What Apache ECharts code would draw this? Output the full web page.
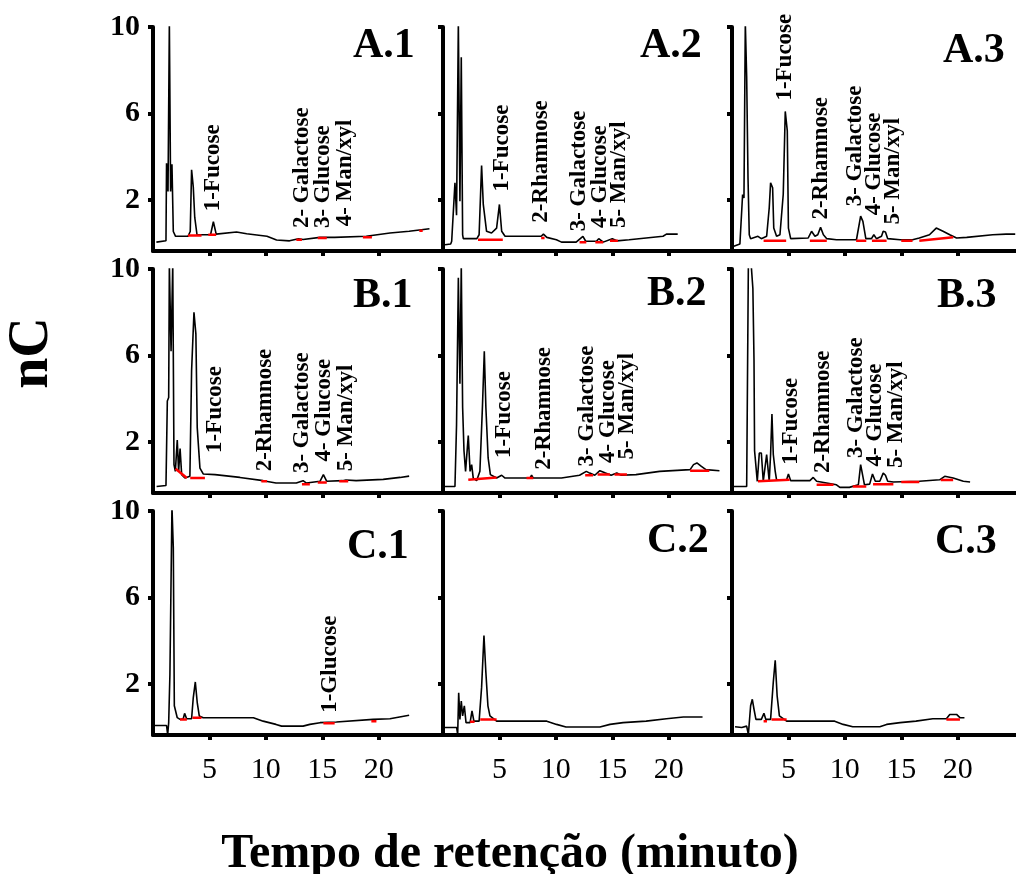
<!DOCTYPE html>
<html>
<head>
<meta charset="utf-8">
<script src="https://cdn.jsdelivr.net/npm/echarts@6/dist/echarts.min.js"></script>
<style>
  html, body { margin: 0; padding: 0; background: #fff; }
  #chart { width: 1016px; height: 874px; }
</style>
</head>
<body>
<div id="chart"></div>
<script>
// ---- Chromatogram traces: [retention time (min), signal (nC)] ----
const traceA1 = [[0.3,0.06],[1.15,0.12],[1.2,3.7],[1.33,2.4],[1.45,10.2],[1.56,2.4],[1.68,3.66],[1.8,0.55],[2.0,0.33],[3.1,0.33],[3.3,0.55],[3.42,3.4],[3.57,2.6],[3.7,1.2],[3.9,0.4],[5.1,0.4],[5.35,1.0],[5.6,0.43],[7.4,0.53],[8.3,0.45],[10.1,0.33],[10.95,0.16],[12.1,0.12],[12.9,0.22],[13.3,0.18],[14.8,0.28],[16.1,0.28],[18.9,0.33],[21.0,0.48],[22.7,0.56],[24.5,0.68]];
const traceA2 = [[0.18,-0.06],[0.68,-0.03],[0.77,0.1],[1.06,2.8],[1.2,1.3],[1.36,10.2],[1.5,1.95],[1.62,8.6],[1.74,0.4],[1.8,0.22],[3.0,0.22],[3.2,0.4],[3.42,3.6],[3.57,1.8],[3.86,0.56],[4.3,0.48],[4.75,0.71],[5.0,1.8],[5.2,0.56],[5.5,0.33],[8.7,0.33],[8.9,0.43],[9.2,0.28],[10.05,0.17],[10.5,0.06],[11.8,0.06],[12.4,0.33],[12.65,0.1],[13.6,0.1],[13.8,0.22],[14.2,0.06],[15.0,0.22],[15.4,0.12],[16.5,0.17],[18.0,0.25],[19.5,0.33],[19.8,0.43],[20.8,0.43]];
const traceA3 = [[0.1,-0.14],[0.7,-0.03],[0.94,2.26],[1.06,2.1],[1.18,10.2],[1.3,7.7],[1.42,3.0],[1.53,0.4],[1.65,0.22],[2.3,0.33],[2.6,0.22],[3.07,0.33],[3.3,1.65],[3.42,2.8],[3.6,2.57],[3.7,0.71],[3.95,0.33],[4.25,0.4],[4.54,2.26],[4.72,6.1],[4.9,5.2],[5.0,0.71],[5.2,0.22],[6.75,0.25],[7.05,0.56],[7.35,0.33],[7.6,0.4],[7.85,0.74],[8.1,0.4],[8.4,0.22],[9.26,0.17],[11.03,0.17],[11.4,1.26],[11.6,1.02],[11.86,0.22],[12.36,0.22],[12.57,0.4],[12.8,0.22],[13.25,0.33],[13.4,0.56],[13.6,0.53],[13.8,0.22],[14.9,0.17],[16.0,0.17],[16.6,0.25],[17.5,0.4],[18.1,0.71],[18.7,0.56],[19.3,0.4],[19.9,0.25],[20.8,0.28],[23.1,0.4],[24.3,0.43],[25.1,0.43]];
const traceB1 = [[0.32,-0.05],[1.15,0],[1.27,3.9],[1.39,4.06],[1.45,10.2],[1.6,6.2],[1.75,10.2],[1.86,0.96],[1.98,0.65],[2.15,2.1],[2.27,0.65],[2.4,1.7],[2.54,0.5],[2.83,0.34],[3.27,0.42],[3.42,5.3],[3.63,8.0],[3.8,7.0],[3.92,2.67],[4.16,0.8],[4.45,0.53],[5.5,0.5],[5.6,0.45],[7.7,0.37],[9.76,0.22],[10.9,0.11],[12.7,0.11],[13.3,0.22],[13.6,0.11],[14.8,0.19],[15.1,0.5],[15.4,0.19],[16.8,0.22],[17.1,0.25],[18.0,0.22],[20.4,0.28],[21.9,0.37],[22.7,0.43]];
const traceB2 = [[0.18,-0.05],[1.06,-0.05],[1.2,2.8],[1.36,9.6],[1.5,4.7],[1.62,10.2],[1.74,3.6],[1.86,1.6],[2.0,0.65],[2.24,2.3],[2.4,0.65],[2.54,0.96],[2.68,0.34],[2.98,0.22],[3.27,0.65],[3.5,3.7],[3.66,6.2],[3.8,3.6],[4.0,1.27],[4.2,0.5],[4.75,0.34],[5.2,0.47],[5.5,0.34],[7.7,0.34],[7.85,0.47],[8.0,0.34],[10.5,0.34],[12.1,0.47],[12.7,0.65],[13.0,0.57],[13.45,0.47],[13.9,0.68],[14.4,0.57],[14.9,0.47],[15.4,0.57],[15.8,0.47],[17.1,0.5],[19.2,0.65],[21.9,0.73],[22.2,0.96],[22.5,1.04],[22.9,0.88],[23.3,0.73],[24.5,0.68]];
const traceB3 = [[0.12,-0.05],[1.3,-0.05],[1.45,10.2],[1.7,10.2],[1.85,9.1],[1.95,5.8],[2.0,1.6],[2.12,1.6],[2.24,0.19],[2.42,1.5],[2.6,1.5],[2.77,0.19],[3.07,1.43],[3.3,0.19],[3.42,1.43],[3.54,3.3],[3.66,1.43],[3.83,0.65],[3.95,0.26],[4.84,0.26],[5.0,0.53],[5.2,0.22],[6.9,0.22],[7.2,0.37],[7.5,0.19],[9.26,0.03],[9.56,-0.09],[10.4,-0.09],[11.2,0.03],[11.4,0.96],[11.56,1.04],[11.74,0.03],[12.2,0.06],[12.45,0.53],[12.7,0.19],[13.1,0.19],[13.4,0.57],[13.6,0.47],[13.8,0.19],[14.3,0.16],[16.6,0.19],[18.4,0.26],[18.85,0.42],[19.6,0.34],[20.5,0.19],[21.1,0.16]];
const traceC1 = [[0.18,0.09],[1.2,0.09],[1.3,-0.33],[1.39,0.22],[1.5,2.47],[1.68,10.2],[1.8,8.3],[1.89,1.0],[2.04,0.91],[2.15,0.45],[2.4,0.37],[2.68,0.4],[2.8,0.65],[2.98,0.4],[3.42,0.4],[3.57,1.38],[3.75,2.1],[3.92,1.15],[4.1,0.53],[4.45,0.45],[8.9,0.45],[9.76,0.29],[10.9,0.14],[11.4,0.06],[13.3,0.06],[13.9,0.14],[14.8,0.22],[16.25,0.25],[19.5,0.37],[21.0,0.4],[22.7,0.56]];
const traceC2 = [[0.18,0],[1.21,0],[1.3,-0.33],[1.39,1.6],[1.5,0.37],[1.62,1.22],[1.74,0.53],[1.89,1.0],[2.04,0.22],[2.4,0.22],[2.57,0.76],[2.74,0.29],[3.2,0.29],[3.42,1.85],[3.63,4.25],[3.8,2.54],[3.98,1.0],[4.16,0.53],[4.75,0.29],[9.2,0.29],[10.06,0.14],[10.9,0.02],[13.9,0.02],[14.8,0.14],[15.96,0.22],[18.0,0.29],[19.8,0.4],[21.3,0.48],[23.0,0.48]];
const traceC3 = [[0.27,0.03],[0.86,0],[1.3,0.06],[1.45,-0.33],[1.65,1.0],[1.8,1.3],[1.95,0.84],[2.12,0.37],[2.6,0.37],[2.83,0.65],[3.0,0.37],[3.42,0.37],[3.66,2.1],[3.83,3.1],[4.0,1.46],[4.2,0.53],[4.84,0.29],[9.1,0.29],[9.85,0.14],[10.7,0.03],[13.1,0.03],[13.7,0.14],[14.9,0.22],[16.3,0.29],[17.8,0.4],[19.0,0.4],[19.3,0.6],[19.9,0.6],[20.2,0.45],[20.6,0.45]];

// ---- Integration baselines (red): [t start, nC start, t end, nC end] ----
const baseA1 = [[3.1,0.37,4.3,0.37],[4.9,0.4,5.6,0.4],[12.7,0.17,13.2,0.17],[14.6,0.25,15.4,0.25],[18.6,0.28,19.4,0.28],[23.6,0.59,23.9,0.59]];
const baseA2 = [[3.1,0.17,5.3,0.17],[8.7,0.25,9.0,0.25],[12.1,0.06,12.7,0.06],[13.5,0.06,14.2,0.06],[14.8,0.12,15.5,0.12]];
const baseA3 = [[2.8,0.12,4.8,0.12],[6.9,0.12,8.4,0.12],[11.0,0.12,11.9,0.12],[12.4,0.12,13.7,0.12],[15.0,0.12,16.0,0.12],[16.6,0.12,19.6,0.28]];
const baseB1 = [[2.0,0.77,3.0,0.34],[3.3,0.34,4.6,0.34],[9.6,0.19,10.1,0.19],[13.2,0.06,13.9,0.06],[14.6,0.14,15.4,0.14],[16.5,0.19,17.3,0.19]];
const baseB2 = [[2.24,0.26,4.75,0.37],[7.4,0.34,8.0,0.34],[12.6,0.47,13.3,0.47],[13.7,0.5,14.8,0.5],[15.2,0.5,16.3,0.5],[21.9,0.68,23.6,0.68]];
const baseB3 = [[2.3,0.19,5.1,0.26],[7.5,0.03,9.0,0.03],[10.7,-0.05,11.9,-0.05],[12.5,0.06,14.3,0.06],[15.0,0.16,16.6,0.16],[18.5,0.25,19.6,0.25]];
const baseC1 = [[2.4,0.37,3.0,0.37],[3.5,0.45,4.3,0.45],[15.1,0.19,16.1,0.19],[19.35,0.29,19.8,0.29]];
const baseC2 = [[2.4,0.26,2.8,0.26],[3.3,0.37,4.75,0.37]];
const baseC3 = [[2.8,0.29,3.1,0.29],[3.5,0.37,4.84,0.37],[19.0,0.37,20.2,0.37]];

// ---- Peak annotations: [t, nC at text start, text] ----
const notesA1 = [[5.3,1.49,'1-Fucose'],[13.2,0.71,'2- Galactose'],[15.1,0.71,'3- Glucose'],[17.0,0.79,'4- Man/xyl']];
const notesA2 = [[5.2,2.4,'1-Fucose'],[8.7,0.95,'2-Rhamnose'],[12.1,0.56,'3- Galactose'],[13.9,0.71,'4- Glucose'],[15.6,0.71,'5- Man/xyl']];
const notesA3 = [[4.7,6.6,'1-Fucose'],[7.85,1.1,'2-Rhamnose'],[10.95,1.72,'3- Galactose'],[12.6,1.3,'4- Glucose'],[14.3,0.87,'5- Man/xyl']];
const notesB1 = [[5.5,1.5,'1-Fucose'],[9.9,0.65,'2-Rhamnose'],[13.2,0.57,'3- Galactose'],[15.2,1.1,'4- Glucose'],[17.1,0.65,'5- Man/xyl']];
const notesB2 = [[5.4,1.27,'1-Fucose'],[8.95,0.73,'2-Rhamnose'],[12.8,0.88,'3- Galactose'],[14.6,1.04,'4- Glucose'],[16.3,1.2,'5- Man/xyl']];
const notesB3 = [[5.2,0.96,'1-Fucose'],[8.1,0.57,'2-Rhamnose'],[11.0,1.27,'3- Galactose'],[12.7,0.88,'4- Glucose'],[14.5,0.8,'5- Man/xyl']];
const notesC1 = [[15.7,0.68,'1-Glucose']];
const notesC2 = [];
const notesC3 = [];

// ---- Axes ----
const xTicks = [5, 10, 15, 20];
const yTicks = [2, 6, 10];
const xRange = [0, 25.7];
const yRange = [-0.35, 10];
const panelNames = ['A.1','A.2','A.3','B.1','B.2','B.3','C.1','C.2','C.3'];
const xTitle = 'Tempo de retenção (minuto)';
const yTitle = 'nC';

const traces = [traceA1, traceA2, traceA3, traceB1, traceB2, traceB3, traceC1, traceC2, traceC3];
const baselines = [baseA1, baseA2, baseA3, baseB1, baseB2, baseB3, baseC1, baseC2, baseC3];
const notes = [notesA1, notesA2, notesA3, notesB1, notesB2, notesB3, notesC1, notesC2, notesC3];

// ---- Layout ----
const SERIF = "'Liberation Serif', 'Times New Roman', Times, serif";
const colLeft = [153, 443, 732];
const rowTop = [27, 269, 511];
const panelW = 290, panelH = 224;
// panel name positions (left, top) relative to each panel
const nameOffset = [[200,-2],[197,-2],[211,3],[200,6],[204,4],[205,6],[194,15],[204,9],[203,10]];

const grid = [], xAxis = [], yAxis = [], series = [], title = [];

for (let i = 0; i < 9; i++) {
  const row = Math.floor(i / 3), col = i % 3;
  grid.push({
    left: colLeft[col], top: rowTop[row], width: panelW, height: panelH,
    outerBoundsMode: 'none', containLabel: false
  });
  xAxis.push({
    gridIndex: i, type: 'value', min: xRange[0], max: xRange[1],
    axisLine: { show: true, onZero: false, lineStyle: { color: '#000', width: 4 } },
    axisTick: { show: true, customValues: xTicks, length: 5, lineStyle: { color: '#000', width: 4 } },
    axisLabel: {
      show: row === 2, customValues: xTicks, margin: 20,
      color: '#000', fontFamily: SERIF, fontSize: 30
    },
    splitLine: { show: false }
  });
  yAxis.push({
    gridIndex: i, type: 'value', min: yRange[0], max: yRange[1],
    axisLine: { show: true, onZero: false, lineStyle: { color: '#000', width: 4 } },
    axisTick: { show: true, customValues: yTicks, length: 5, lineStyle: { color: '#000', width: 4 } },
    axisLabel: {
      show: col === 0, customValues: yTicks, margin: 13,
      color: '#000', fontFamily: SERIF, fontSize: 30, fontWeight: 'bold'
    },
    splitLine: { show: false }
  });

  // chromatogram trace
  series.push({
    type: 'line', xAxisIndex: i, yAxisIndex: i, data: traces[i],
    symbol: 'none', clip: true, silent: true,
    lineStyle: { color: '#000', width: 1.6 }
  });

  // red integration baselines
  baselines[i].forEach(function (s) {
    series.push({
      type: 'line', xAxisIndex: i, yAxisIndex: i,
      data: [[s[0], s[1]], [s[2], s[3]]],
      symbol: 'none', clip: true, silent: true,
      lineStyle: { color: '#ff0000', width: 2.5 }
    });
  });

  // vertical peak names
  const list = notes[i];
  if (list.length) {
    series.push({
      type: 'custom', xAxisIndex: i, yAxisIndex: i, silent: true, clip: false,
      data: list.map(function (n) { return [n[0], n[1]]; }),
      renderItem: function (params, api) {
        const p = api.coord([api.value(0), api.value(1)]);
        return {
          type: 'text', x: p[0], y: p[1], rotation: Math.PI / 2,
          style: {
            text: list[params.dataIndex][2],
            fontFamily: SERIF, fontSize: 23, fontWeight: 'bold', fill: '#000',
            align: 'left', verticalAlign: 'middle',
            textAlign: 'left', textVerticalAlign: 'middle'
          }
        };
      }
    });
  }

  title.push({
    text: panelNames[i],
    left: colLeft[col] + nameOffset[i][0], top: rowTop[row] + nameOffset[i][1],
    padding: 0,
    textStyle: { fontFamily: SERIF, fontSize: 42, fontWeight: 'bold', color: '#000' }
  });
}

const chart = echarts.init(document.getElementById('chart'), null, { renderer: 'canvas' });
chart.setOption({
  animation: false,
  backgroundColor: '#fff',
  title: title,
  grid: grid,
  xAxis: xAxis,
  yAxis: yAxis,
  series: series,
  graphic: [
    {
      type: 'text', x: 33, y: 353, rotation: Math.PI / 2,
      style: {
        text: yTitle, fontFamily: SERIF, fontSize: 56, fontWeight: 'bold', fill: '#000',
        align: 'center', verticalAlign: 'middle', textAlign: 'center', textVerticalAlign: 'middle'
      }
    },
    {
      type: 'text', x: 510, y: 855,
      style: {
        text: xTitle, fontFamily: SERIF, fontSize: 48, fontWeight: 'bold', fill: '#000',
        align: 'center', verticalAlign: 'middle', textAlign: 'center', textVerticalAlign: 'middle'
      }
    }
  ]
});
</script>
</body>
</html>
